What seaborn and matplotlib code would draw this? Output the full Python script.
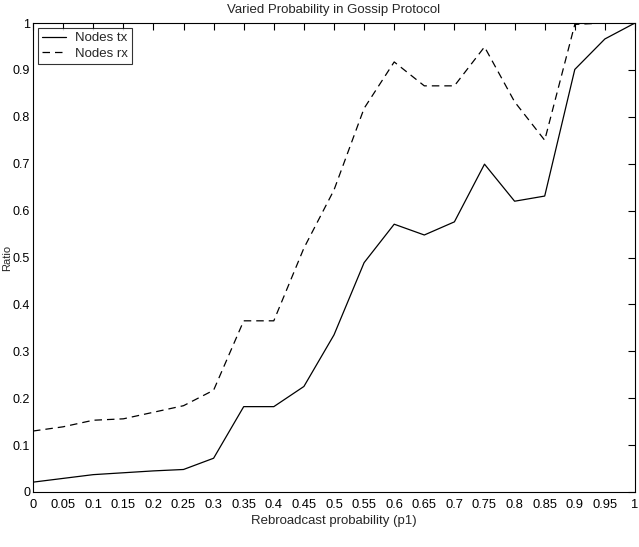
import matplotlib
matplotlib.use("Agg")
import matplotlib.pyplot as plt
import seaborn as sns
import pandas as pd
from matplotlib.lines import Line2D

p1 = [0.0, 0.05, 0.1, 0.15, 0.2, 0.25, 0.3, 0.35, 0.4, 0.45, 0.5,
      0.55, 0.6, 0.65, 0.7, 0.75, 0.8, 0.85, 0.9, 0.95, 1.0]
nodes_tx = [0.021, 0.029, 0.037, 0.041, 0.045, 0.048, 0.072, 0.182, 0.182, 0.225, 0.335,
            0.489, 0.571, 0.548, 0.576, 0.699, 0.620, 0.631, 0.901, 0.966, 1.0]
nodes_rx = [0.130, 0.139, 0.153, 0.156, 0.170, 0.184, 0.217, 0.365, 0.365, 0.52, 0.644,
            0.818, 0.917, 0.866, 0.866, 0.949, 0.832, 0.750, 0.997, 1.0, 1.0]
series_names = ["Nodes tx", "Nodes rx"]
xticks = [0, 0.05, 0.1, 0.15, 0.2, 0.25, 0.3, 0.35, 0.4, 0.45, 0.5,
          0.55, 0.6, 0.65, 0.7, 0.75, 0.8, 0.85, 0.9, 0.95, 1]
xticklabels = ["0", "0.05", "0.1", "0.15", "0.2", "0.25", "0.3", "0.35", "0.4", "0.45", "0.5",
               "0.55", "0.6", "0.65", "0.7", "0.75", "0.8", "0.85", "0.9", "0.95", "1"]
yticks = [0, 0.1, 0.2, 0.3, 0.4, 0.5, 0.6, 0.7, 0.8, 0.9, 1]
yticklabels = ["0", "0.1", "0.2", "0.3", "0.4", "0.5", "0.6", "0.7", "0.8", "0.9", "1"]

df = pd.DataFrame({
    "p1": p1 * 2,
    "ratio": nodes_tx + nodes_rx,
    "series": [series_names[0]] * len(p1) + [series_names[1]] * len(p1),
})

sns.set_style("white")
plt.rcParams["font.family"] = ["Liberation Sans", "DejaVu Sans"]

fig = plt.figure(figsize=(6.39, 5.47), dpi=100)
ax = fig.add_axes([33 / 639, 1 - 492 / 547, 602 / 639, 469 / 547])

sns.lineplot(data=df, x="p1", y="ratio", hue="series", style="series",
             palette=["black", "black"],
             dashes={series_names[0]: "", series_names[1]: (6, 4)},
             linewidth=0.9, ax=ax, legend=False)

ax.set_xlim(0, 1)
ax.set_ylim(0, 1)
ax.set_xticks(xticks)
ax.set_xticklabels(xticklabels)
ax.set_yticks(yticks)
ax.set_yticklabels(yticklabels)
ax.tick_params(direction="in", length=5, width=0.8, top=True, right=True,
               colors="black")
ax.tick_params(axis="x", pad=5, labelsize=9.3)
ax.tick_params(axis="y", pad=2, labelsize=9)
for s in ax.spines.values():
    s.set_visible(True)
    s.set_color("black")
    s.set_linewidth(0.8)

ax.set_title("Varied Probability in Gossip Protocol", fontsize=9.5, pad=7)
ax.set_xlabel("Rebroadcast probability (p1)", fontsize=9.5, labelpad=3)
ax.set_ylabel("Ratio", fontsize=8)
ax.yaxis.set_label_coords(-0.034, 0.5)

handles = [Line2D([], [], color="black", lw=0.9),
           Line2D([], [], color="black", lw=0.9, dashes=(6, 4))]
leg = ax.legend(handles, series_names, loc="upper left", fontsize=9.5,
                frameon=True, fancybox=False, borderaxespad=0.4,
                handlelength=1.8, borderpad=0.3, labelspacing=0.25,
                handletextpad=0.7)
leg.get_frame().set_edgecolor("black")
leg.get_frame().set_linewidth(0.8)

fig.savefig("out.png", dpi=100)
